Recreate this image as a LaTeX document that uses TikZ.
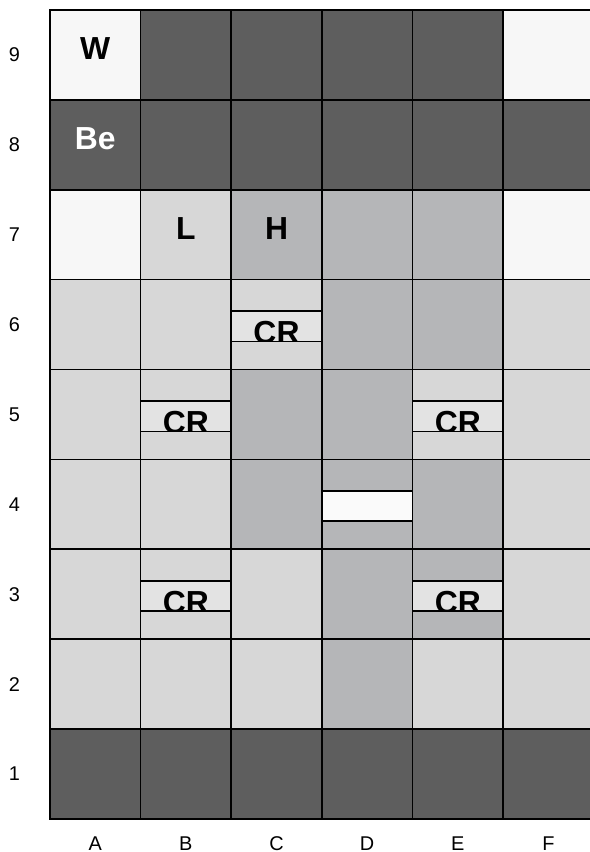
\documentclass[tikz,border=0pt]{standalone}
\usepackage{fontspec}
\setmainfont{Liberation Sans}
\setsansfont{Liberation Sans}
\usepackage{xcolor}
\usepackage{tikz}
\definecolor{darkcell}{HTML}{5E5E5E}
\definecolor{midcell}{HTML}{B5B6B8}
\definecolor{lightcell}{HTML}{D7D7D7}
\definecolor{palecell}{HTML}{F7F7F7}
\definecolor{stripcell}{HTML}{E3E3E3}
\definecolor{holecell}{HTML}{FAFAFA}

\begin{document}
\begin{tikzpicture}[
  x=2.4cm, y=2.38cm,
  every node/.style={font=\sffamily},
  cell/.style={draw=black, line width=1.3pt, minimum width=2.4cm, minimum height=2.38cm, inner sep=0pt, outer sep=0pt},
  strip/.style={draw=black, line width=1.2pt, minimum width=2.4cm, minimum height=0.8cm, inner sep=0pt, outer sep=0pt},
  cover/.style={draw=black, line width=1.2pt},
  tag/.style={anchor=base, inner sep=0pt, font=\sffamily\fontsize{24}{28}\selectfont\bfseries},
  axis/.style={inner sep=0pt, font=\sffamily\fontsize{15}{18}\selectfont},
  frame/.style={draw=black, line width=1.8pt}
]
\useasboundingbox (-0.55,-0.367) rectangle (5.955,9.110);

\node[cell, fill=palecell] (a9) at (0.5,8.5) {};
\node[cell, fill=darkcell] (b9) at (1.5,8.5) {};
\node[cell, fill=darkcell] (c9) at (2.5,8.5) {};
\node[cell, fill=darkcell] (d9) at (3.5,8.5) {};
\node[cell, fill=darkcell] (e9) at (4.5,8.5) {};
\node[cell, fill=palecell] (f9) at (5.5,8.5) {};

\node[cell, fill=darkcell] (a8) at (0.5,7.5) {};
\node[cell, fill=darkcell] (b8) at (1.5,7.5) {};
\node[cell, fill=darkcell] (c8) at (2.5,7.5) {};
\node[cell, fill=darkcell] (d8) at (3.5,7.5) {};
\node[cell, fill=darkcell] (e8) at (4.5,7.5) {};
\node[cell, fill=darkcell] (f8) at (5.5,7.5) {};

\node[cell, fill=palecell] (a7) at (0.5,6.5) {};
\node[cell, fill=lightcell] (b7) at (1.5,6.5) {};
\node[cell, fill=midcell] (c7) at (2.5,6.5) {};
\node[cell, fill=midcell] (d7) at (3.5,6.5) {};
\node[cell, fill=midcell] (e7) at (4.5,6.5) {};
\node[cell, fill=palecell] (f7) at (5.5,6.5) {};

\node[cell, fill=lightcell] (a6) at (0.5,5.5) {};
\node[cell, fill=lightcell] (b6) at (1.5,5.5) {};
\node[cell, fill=lightcell] (c6) at (2.5,5.5) {};
\node[cell, fill=midcell] (d6) at (3.5,5.5) {};
\node[cell, fill=midcell] (e6) at (4.5,5.5) {};
\node[cell, fill=lightcell] (f6) at (5.5,5.5) {};

\node[cell, fill=lightcell] (a5) at (0.5,4.5) {};
\node[cell, fill=lightcell] (b5) at (1.5,4.5) {};
\node[cell, fill=midcell] (c5) at (2.5,4.5) {};
\node[cell, fill=midcell] (d5) at (3.5,4.5) {};
\node[cell, fill=lightcell] (e5) at (4.5,4.5) {};
\node[cell, fill=lightcell] (f5) at (5.5,4.5) {};

\node[cell, fill=lightcell] (a4) at (0.5,3.5) {};
\node[cell, fill=lightcell] (b4) at (1.5,3.5) {};
\node[cell, fill=midcell] (c4) at (2.5,3.5) {};
\node[cell, fill=midcell] (d4) at (3.5,3.5) {};
\node[cell, fill=midcell] (e4) at (4.5,3.5) {};
\node[cell, fill=lightcell] (f4) at (5.5,3.5) {};

\node[cell, fill=lightcell] (a3) at (0.5,2.5) {};
\node[cell, fill=lightcell] (b3) at (1.5,2.5) {};
\node[cell, fill=lightcell] (c3) at (2.5,2.5) {};
\node[cell, fill=midcell] (d3) at (3.5,2.5) {};
\node[cell, fill=midcell] (e3) at (4.5,2.5) {};
\node[cell, fill=lightcell] (f3) at (5.5,2.5) {};

\node[cell, fill=lightcell] (a2) at (0.5,1.5) {};
\node[cell, fill=lightcell] (b2) at (1.5,1.5) {};
\node[cell, fill=lightcell] (c2) at (2.5,1.5) {};
\node[cell, fill=midcell] (d2) at (3.5,1.5) {};
\node[cell, fill=lightcell] (e2) at (4.5,1.5) {};
\node[cell, fill=lightcell] (f2) at (5.5,1.5) {};

\node[cell, fill=darkcell] (a1) at (0.5,0.5) {};
\node[cell, fill=darkcell] (b1) at (1.5,0.5) {};
\node[cell, fill=darkcell] (c1) at (2.5,0.5) {};
\node[cell, fill=darkcell] (d1) at (3.5,0.5) {};
\node[cell, fill=darkcell] (e1) at (4.5,0.5) {};
\node[cell, fill=darkcell] (f1) at (5.5,0.5) {};

\node[tag] (w) at (0.5,8.445) {W};
\node[tag, text=white] (be) at (0.5,7.445) {Be};
\node[tag] (l) at (1.5,6.445) {L};
\node[tag] (h) at (2.5,6.445) {H};

\node[strip, fill=stripcell] (c6s) at (2.5,5.48) {};
\node[tag] (c6t) at (2.5,5.29) {CR};
\draw[cover, fill=lightcell] (c6.south west) rectangle (c6s.south east);

\node[strip, fill=stripcell] (b5s) at (1.5,4.48) {};
\node[tag] (b5t) at (1.5,4.29) {CR};
\draw[cover, fill=lightcell] (b5.south west) rectangle (b5s.south east);

\node[strip, fill=stripcell] (e5s) at (4.5,4.48) {};
\node[tag] (e5t) at (4.5,4.29) {CR};
\draw[cover, fill=lightcell] (e5.south west) rectangle (e5s.south east);

\node[strip, fill=holecell] (d4s) at (3.5,3.48) {};

\node[strip, fill=stripcell] (b3s) at (1.5,2.48) {};
\node[tag] (b3t) at (1.5,2.29) {CR};
\draw[cover, fill=lightcell] (b3.south west) rectangle (b3s.south east);

\node[strip, fill=stripcell] (e3s) at (4.5,2.48) {};
\node[tag] (e3t) at (4.5,2.29) {CR};
\draw[cover, fill=midcell] (e3.south west) rectangle (e3s.south east);

\draw[frame] (a1.south west) rectangle (f9.north east);

\node[axis] (row9) at (-0.392,8.5) {9};
\node[axis] (row8) at (-0.392,7.5) {8};
\node[axis] (row7) at (-0.392,6.5) {7};
\node[axis] (row6) at (-0.392,5.5) {6};
\node[axis] (row5) at (-0.392,4.5) {5};
\node[axis] (row4) at (-0.392,3.5) {4};
\node[axis] (row3) at (-0.392,2.5) {3};
\node[axis] (row2) at (-0.392,1.5) {2};
\node[axis] (row1) at (-0.392,0.5) {1};

\node[axis] (colA) at (0.5,-0.275) {A};
\node[axis] (colB) at (1.5,-0.275) {B};
\node[axis] (colC) at (2.5,-0.275) {C};
\node[axis] (colD) at (3.5,-0.275) {D};
\node[axis] (colE) at (4.5,-0.275) {E};
\node[axis] (colF) at (5.5,-0.275) {F};
\end{tikzpicture}
\end{document}
